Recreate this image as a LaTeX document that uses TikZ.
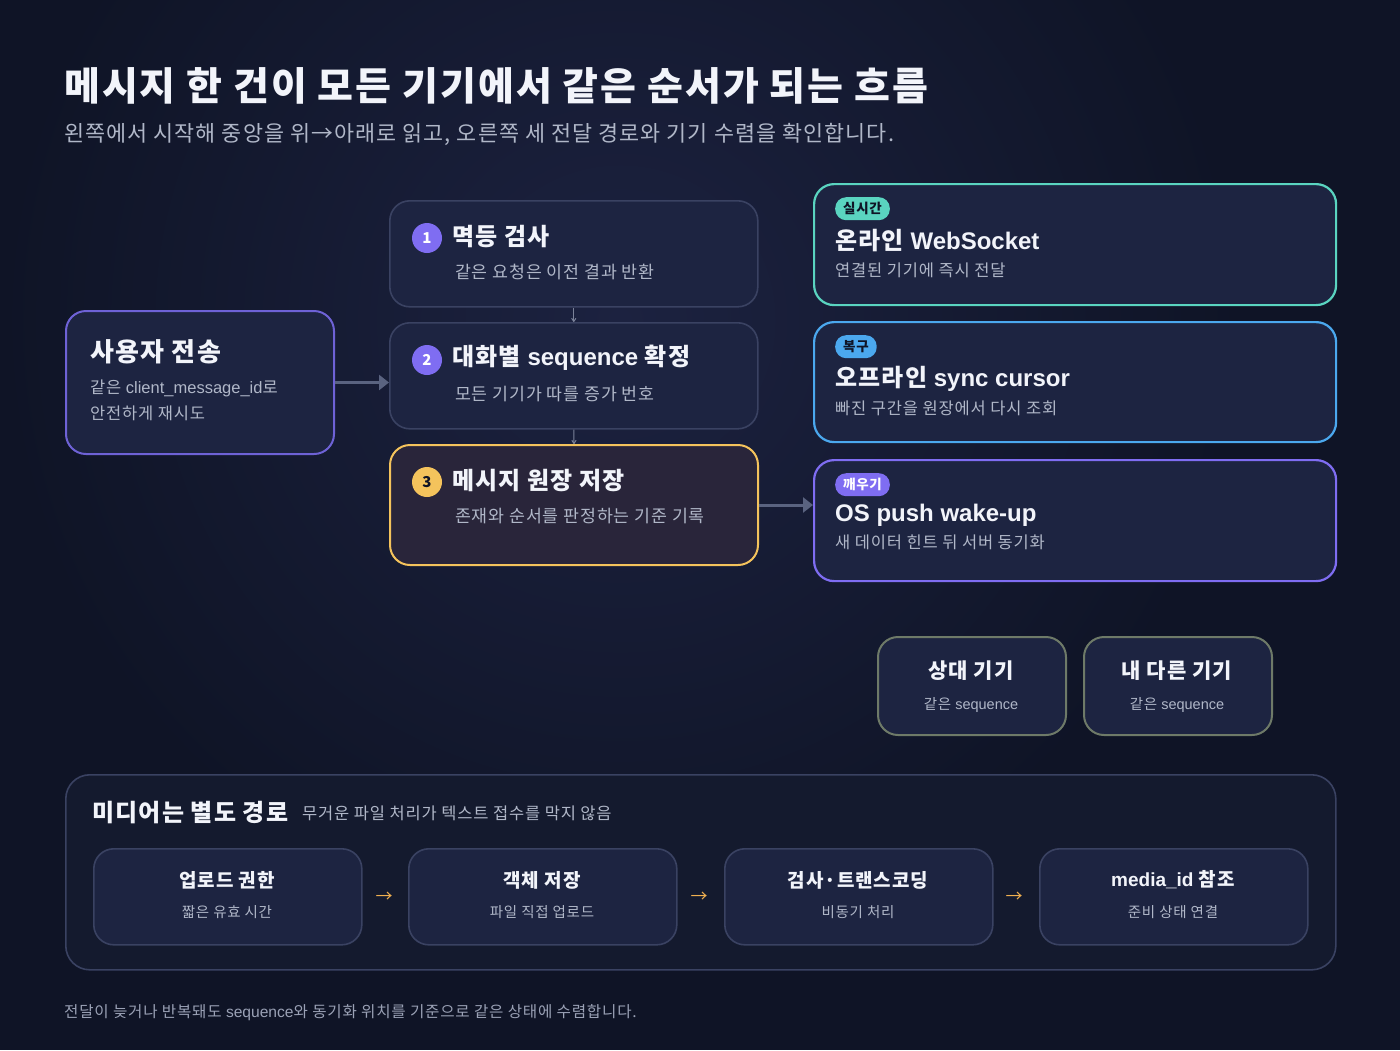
\documentclass[tikz,border=0pt]{standalone}
\usepackage{fontspec}
\setmainfont{Noto Sans CJK KR}[LetterSpace=5]
\newfontfamily\lat{Liberation Sans}
\usetikzlibrary{arrows.meta,positioning}
\definecolor{bgdark}{HTML}{0F1426}
\definecolor{bgglow}{HTML}{1C2240}
\definecolor{cardfill}{HTML}{1D2441}
\definecolor{cardline}{HTML}{3A4262}
\definecolor{warmfill}{HTML}{29253A}
\definecolor{boxfill}{HTML}{141A2E}
\definecolor{txtmain}{HTML}{F2F4FA}
\definecolor{txtsub}{HTML}{B0B7C8}
\definecolor{txtdim}{HTML}{9AA1B5}
\definecolor{violet}{HTML}{7F6DF2}
\definecolor{sendline}{HTML}{6E62D6}
\definecolor{teal}{HTML}{5AD4C0}
\definecolor{sky}{HTML}{4BA8EE}
\definecolor{amber}{HTML}{F4C35C}
\definecolor{olive}{HTML}{6E7A68}
\definecolor{arrowgray}{HTML}{5A6380}
\definecolor{flowor}{HTML}{F0B050}
\tikzset{
  card/.style={draw=cardline,fill=cardfill,rounded corners=20pt,line width=1.6pt,anchor=north west,inner sep=0pt},
  ttl/.style={anchor=west,inner sep=0pt,text=txtmain,font=\bfseries\fontsize{24}{28}\selectfont},
  sub/.style={anchor=west,inner sep=0pt,text=txtsub,font=\fontsize{17.3}{21}\selectfont},
  num/.style={circle,minimum size=30pt,inner sep=0pt,fill=violet,text=white,font=\bfseries\fontsize{15}{15}\selectfont},
  tag/.style={rounded corners=11pt,minimum height=23pt,inner xsep=8pt,inner ysep=0pt,anchor=north west,font=\bfseries\fontsize{13.5}{14}\selectfont},
  link/.style={draw=arrowgray,line width=3pt,-{Triangle[length=10pt,width=15pt]}},
  thinlink/.style={draw=arrowgray!80,line width=1pt,-{To[length=4pt,width=5pt]}},
}
\begin{document}
\begin{tikzpicture}[x=1pt,y=-1pt]
  \useasboundingbox (0,0) rectangle (1400,1050);
  \fill[bgdark] (0,0) rectangle (1400,1050);
  \shade[inner color=bgglow,outer color=bgdark] (620,320) circle (620pt);
  %
  \node[anchor=base west,inner sep=0pt,text=txtmain,font=\bfseries\fontsize{39}{44}\selectfont] (title) at (64,100) {메시지 한 건이 모든 기기에서 같은 순서가 되는 흐름};
  \node[anchor=base west,inner sep=0pt,text=txtsub,font=\fontsize{21.8}{25}\selectfont] (lead) at (64,141) {왼쪽에서 시작해 중앙을 위→아래로 읽고, 오른쪽 세 전달 경로와 기기 수렴을 확인합니다.};
  %
  % sender
  \node[card,draw=sendline,line width=2pt,minimum width=268pt,minimum height=143pt] (send) at (65,310) {};
  \node[ttl,font=\bfseries\fontsize{26}{30}\selectfont] (sendT) at (90,352) {사용자 전송};
  \node[sub,font=\fontsize{16.5}{20}\selectfont] (sendS) at (90,388) {같은 {\lat client\_message\_id}로};
  \node[sub,font=\fontsize{16.5}{20}\selectfont] (sendS2) at (90,413) {안전하게 재시도};
  %
  % server steps
  \node[card,minimum width=368pt,minimum height=106pt] (idem) at (389,200) {};
  \node[num] (idemN) at (427,238) {1};
  \node[ttl] (idemT) at (452,237) {멱등 검사};
  \node[sub] (idemS) at (455,272) {같은 요청은 이전 결과 반환};
  %
  \node[card,minimum width=368pt,minimum height=106pt] (seq) at (389,322) {};
  \node[num] (seqN) at (427,360) {2};
  \node[ttl] (seqT) at (452,358) {대화별 {\lat sequence} 확정};
  \node[sub] (seqS) at (455,394) {모든 기기가 따를 증가 번호};
  %
  \node[card,draw=amber,fill=warmfill,line width=2pt,minimum width=368pt,minimum height=120pt] (store) at (389,444) {};
  \node[num,fill=amber,text=bgdark] (storeN) at (427,482) {3};
  \node[ttl] (storeT) at (452,481) {메시지 원장 저장};
  \node[sub] (storeS) at (455,516) {존재와 순서를 판정하는 기준 기록};
  %
  % delivery paths
  \node[card,draw=teal,line width=2.2pt,minimum width=522pt,minimum height=121pt] (online) at (813,183) {};
  \node[tag,fill=teal,text=bgdark] (onlineTag) at (835,197) {실시간};
  \node[ttl,font=\bfseries\fontsize{24}{28}\selectfont] (onlineT) at (835,241) {온라인 {\lat WebSocket}};
  \node[sub,font=\fontsize{16.5}{20}\selectfont] (onlineS) at (835,270) {연결된 기기에 즉시 전달};
  %
  \node[card,draw=sky,line width=2.2pt,minimum width=522pt,minimum height=120pt] (offline) at (813,321) {};
  \node[tag,fill=sky,text=bgdark] (offlineTag) at (835,335) {복구};
  \node[ttl,font=\bfseries\fontsize{24}{28}\selectfont] (offlineT) at (835,379) {오프라인 {\lat sync cursor}};
  \node[sub,font=\fontsize{16.5}{20}\selectfont] (offlineS) at (835,408) {빠진 구간을 원장에서 다시 조회};
  %
  \node[card,draw=violet,line width=2.2pt,minimum width=522pt,minimum height=121pt] (push) at (813,459) {};
  \node[tag,fill=violet,text=white] (pushTag) at (835,473) {깨우기};
  \node[ttl,font=\bfseries\lat\fontsize{24}{28}\selectfont] (pushT) at (835,515) {OS push wake-up};
  \node[sub,font=\fontsize{16.5}{20}\selectfont] (pushS) at (835,542) {새 데이터 힌트 뒤 서버 동기화};
  %
  % devices
  \node[card,draw=olive,line width=2pt,minimum width=188pt,minimum height=98pt] (peer) at (877,636) {};
  \node[ttl,anchor=center,font=\bfseries\fontsize{21}{25}\selectfont] (peerT) at (971,671) {상대 기기};
  \node[sub,anchor=center,font=\fontsize{14.5}{18}\selectfont] (peerS) at (971,705) {같은 {\lat sequence}};
  \node[card,draw=olive,line width=2pt,minimum width=188pt,minimum height=98pt] (mine) at (1083,636) {};
  \node[ttl,anchor=center,font=\bfseries\fontsize{21}{25}\selectfont] (mineT) at (1177,671) {내 다른 기기};
  \node[sub,anchor=center,font=\fontsize{14.5}{18}\selectfont] (mineS) at (1177,705) {같은 {\lat sequence}};
  %
  % media lane
  \node[card,fill=boxfill,rounded corners=24pt,minimum width=1270pt,minimum height=195pt] (media) at (65,774) {};
  \node[ttl,anchor=base west,font=\bfseries\fontsize{24}{28}\selectfont] (mediaT) at (92,821) {미디어는 별도 경로};
  \node[sub,anchor=base west,font=\fontsize{16.5}{20}\selectfont] (mediaS) at (302,819) {무거운 파일 처리가 텍스트 접수를 막지 않음};
  \foreach \id/\x/\t/\s in {up/93/업로드 권한/짧은 유효 시간, obj/408/객체 저장/파일 직접 업로드, scan/724/검사·트랜스코딩/비동기 처리, ref/1039/{\lat media\_id} 참조/준비 상태 연결}{
    \node[card,minimum width=268pt,minimum height=96pt] (\id) at (\x,848) {};
    \node[ttl,anchor=center,font=\bfseries\fontsize{19}{24}\selectfont] (\id T) at (\x+134,880) {\t};
    \node[sub,anchor=center,font=\fontsize{14.5}{18}\selectfont] (\id S) at (\x+134,912) {\s};
  }
  \foreach \a/\x in {1/384,2/699,3/1014}
    \node[text=flowor,font=\fontsize{17}{17}\selectfont,inner sep=0pt] (step\a) at (\x,897) {→};
  %
  \node[anchor=base west,inner sep=0pt,text=txtdim,font=\fontsize{15.6}{18}\selectfont] (foot) at (64,1017) {전달이 늦거나 반복돼도 {\lat sequence}와 동기화 위치를 기준으로 같은 상태에 수렴합니다.};
  %
  \draw[link] (send.east) -- (send.east -| seq.west);
  \draw[link] (store.east) -- (store.east -| push.west);
  \draw[thinlink] (idem.south) -- (seq.north);
  \draw[thinlink] (seq.south) -- (store.north);
\end{tikzpicture}
\end{document}
